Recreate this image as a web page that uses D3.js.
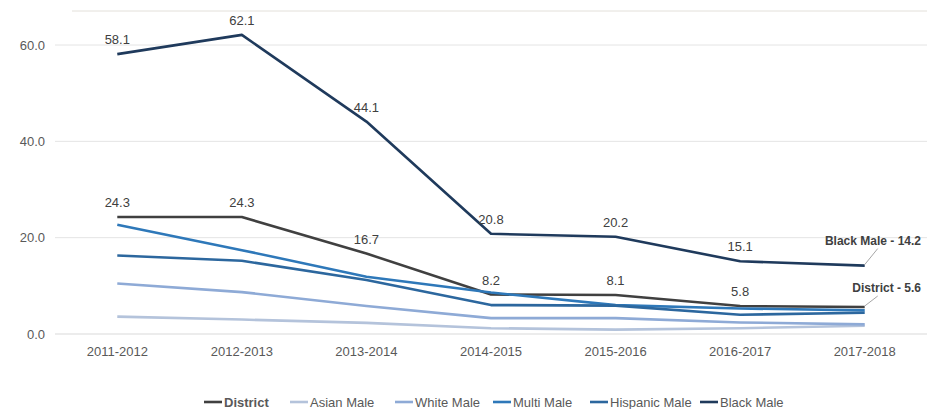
<!DOCTYPE html>
<html>
<head>
<meta charset="utf-8">
<script src="https://cdn.jsdelivr.net/npm/d3@7"></script>
<style>
  body { margin: 0; background: #fff; }
  svg { font-family: "Liberation Sans", Arial, sans-serif; }
</style>
</head>
<body>
<svg id="chart" width="940" height="409"></svg>
<script>
// data
const years = ["2011-2012", "2012-2013", "2013-2014", "2014-2015", "2015-2016", "2016-2017", "2017-2018"];
const district = [24.3, 24.3, 16.7, 8.2, 8.1, 5.8, 5.6];
const asianMale = [3.6, 3.0, 2.3, 1.2, 0.9, 1.2, 1.7];
const whiteMale = [10.5, 8.7, 5.8, 3.3, 3.3, 2.4, 2.0];
const multiMale = [22.7, 17.4, 11.9, 8.6, 6.0, 5.3, 4.9];
const hispanicMale = [16.3, 15.2, 11.2, 6.0, 5.9, 4.0, 4.4];
const blackMale = [58.1, 62.1, 44.1, 20.8, 20.2, 15.1, 14.2];
const yTicks = [0, 20, 40, 60];

const series = [
  { name: "District", values: district, color: "#404040", bold: true },
  { name: "Asian Male", values: asianMale, color: "#b4c3db" },
  { name: "White Male", values: whiteMale, color: "#8eaad6" },
  { name: "Multi Male", values: multiMale, color: "#2e78b9" },
  { name: "Hispanic Male", values: hispanicMale, color: "#2c679e" },
  { name: "Black Male", values: blackMale, color: "#1f3a5c" },
];

const svg = d3.select("#chart");

const x = d3.scaleBand().domain(years).range([55, 927]);
const y = d3.scaleLinear().domain([0, 60]).range([334, 45]);
const cx = (d) => x(d) + x.bandwidth() / 2;

// top border line
svg.append("line")
  .attr("x1", 72).attr("x2", 927)
  .attr("y1", 11).attr("y2", 11)
  .attr("stroke", "#e3e0da").attr("stroke-width", 1);

// gridlines
svg.append("g")
  .selectAll("line")
  .data(yTicks)
  .join("line")
  .attr("x1", 55).attr("x2", 927)
  .attr("y1", (d) => y(d)).attr("y2", (d) => y(d))
  .attr("stroke", (d) => (d === 0 ? "#d9d9d9" : "#e4e4e4"))
  .attr("stroke-width", 1);

// y labels
svg.append("g")
  .selectAll("text")
  .data(yTicks)
  .join("text")
  .attr("x", 45)
  .attr("y", (d) => y(d))
  .attr("dy", "0.35em")
  .attr("text-anchor", "end")
  .attr("font-size", "13px")
  .attr("fill", "#595959")
  .text((d) => d.toFixed(1));

// x labels
svg.append("g")
  .selectAll("text")
  .data(years)
  .join("text")
  .attr("x", (d) => cx(d))
  .attr("y", 356)
  .attr("text-anchor", "middle")
  .attr("font-size", "13px")
  .attr("fill", "#595959")
  .text((d) => d);

// lines
const line = d3.line()
  .x((d, i) => cx(years[i]))
  .y((d) => y(d));

svg.append("g")
  .selectAll("path")
  .data(series)
  .join("path")
  .attr("d", (s) => line(s.values))
  .attr("fill", "none")
  .attr("stroke", (s) => s.color)
  .attr("stroke-width", 2.6)
  .attr("stroke-linejoin", "round");

// data labels for District and Black Male (all but the last point)
[district, blackMale].forEach((vals) => {
  svg.append("g")
    .selectAll("text")
    .data(vals.slice(0, -1))
    .join("text")
    .attr("x", (d, i) => cx(years[i]))
    .attr("y", (d) => y(d) - 10)
    .attr("text-anchor", "middle")
    .attr("font-size", "13px")
    .attr("fill", "#404040")
    .text((d) => d.toFixed(1));
});

// callouts for last values
const last = years.length - 1;
const callouts = [
  { text: `Black Male - ${blackMale[last].toFixed(1)}`, v: blackMale[last], dx: 13, dy: -17 },
  { text: `District - ${district[last].toFixed(1)}`, v: district[last], dx: 13, dy: -11 },
];
callouts.forEach((c) => {
  const px = cx(years[last]);
  const py = y(c.v);
  svg.append("line")
    .attr("x1", px).attr("y1", py - 1)
    .attr("x2", px + c.dx).attr("y2", py + c.dy)
    .attr("stroke", "#a6a6a6").attr("stroke-width", 1);
  svg.append("text")
    .attr("x", 921)
    .attr("y", py + c.dy - 4)
    .attr("text-anchor", "end")
    .attr("font-size", "12px")
    .attr("font-weight", "bold")
    .attr("fill", "#404040")
    .text(c.text);
});

// legend
const legendX = [204, 290, 395, 493, 590, 700];
const legend = svg.append("g")
  .selectAll("g")
  .data(series)
  .join("g")
  .attr("transform", (s, i) => `translate(${legendX[i]}, 402)`);

legend.append("line")
  .attr("x1", 0).attr("x2", 18)
  .attr("y1", 0).attr("y2", 0)
  .attr("stroke", (s) => s.color)
  .attr("stroke-width", 2.6);

legend.append("text")
  .attr("x", 20)
  .attr("dy", "0.35em")
  .attr("font-size", "13px")
  .attr("font-weight", (s) => (s.bold ? "bold" : "normal"))
  .attr("fill", "#595959")
  .text((s) => s.name);
</script>
</body>
</html>
